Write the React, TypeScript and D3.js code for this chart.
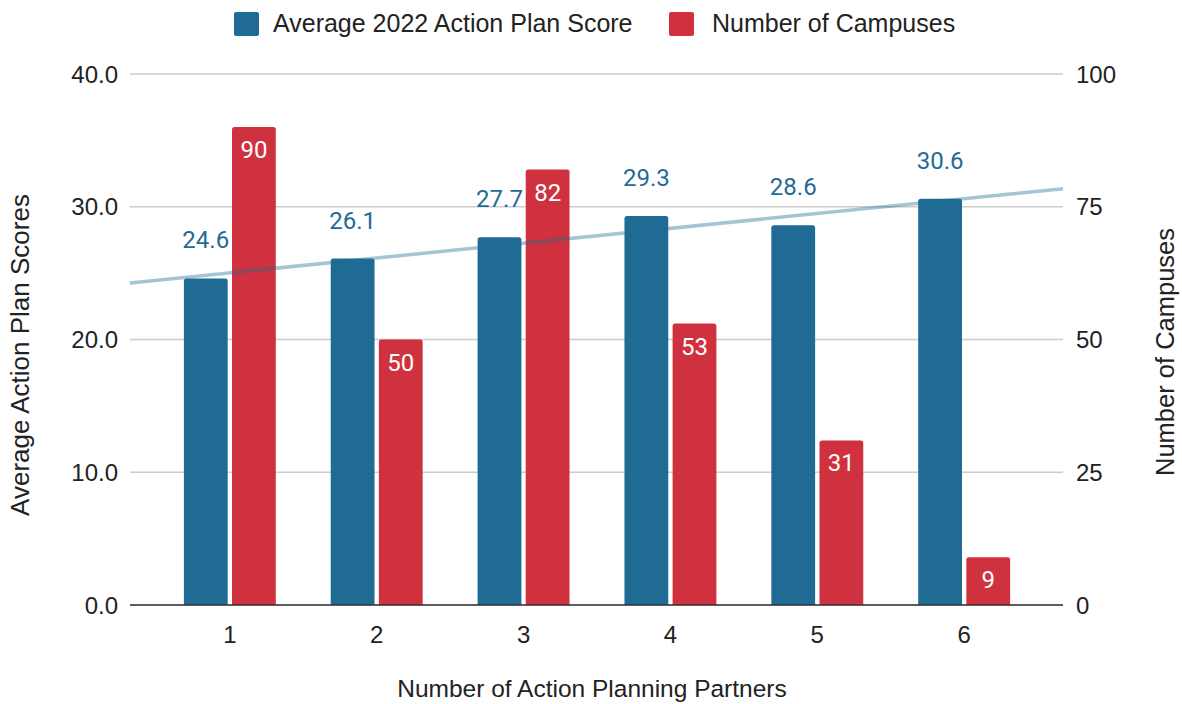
import React from 'react';
import * as d3 from 'd3';

const partners = ['1', '2', '3', '4', '5', '6'];
const avgScores = [24.6, 26.1, 27.7, 29.3, 28.6, 30.6];
const campuses = [90, 50, 82, 53, 31, 9];
const leftTicks = [0, 10, 20, 30, 40];
const rightTicks = [0, 25, 50, 75, 100];

const BLUE = '#1f6b93';
const RED = '#cf323e';
const W = 1182;
const H = 704;
const margin = { top: 74, right: 119, bottom: 99, left: 130 };

const App = () => {
  const x0 = margin.left;
  const x1 = W - margin.right;
  const y0 = H - margin.bottom;
  const y1 = margin.top;

  const xScale = d3.scaleBand<string>()
    .domain(partners)
    .range([x0 + 1, x1])
    .paddingInner(0.374)
    .paddingOuter(0.36);

  const inner = d3.scaleBand<string>()
    .domain(['score', 'campus'])
    .range([0, xScale.bandwidth()])
    .paddingInner(0.09);

  const yLeft = d3.scaleLinear().domain([0, 40]).range([y0, y1]);
  const yRight = d3.scaleLinear().domain([0, 100]).range([y0, y1]);

  // linear trendline for the score series
  const xs = partners.map((_, i) => i + 1);
  const mx = d3.mean(xs) as number;
  const my = d3.mean(avgScores) as number;
  const sxy = d3.sum(xs, (v, i) => (v - mx) * (avgScores[i] - my));
  const sxx = d3.sum(xs, v => (v - mx) * (v - mx));
  const slope = sxy / sxx;
  const intercept = my - slope * mx;
  const step = xScale.step();
  const firstCenter = (xScale('1') as number) + xScale.bandwidth() / 2;
  const valAt = (px: number) => 1 + (px - firstCenter) / step;
  const trend = (px: number) => yLeft(intercept + slope * valAt(px));

  const barPath = (x: number, y: number, w: number, h: number, r = 2.5) => {
    const rr = Math.min(r, h);
    return `M${x},${y + h}V${y + rr}Q${x},${y} ${x + rr},${y}H${x + w - rr}Q${x + w},${y} ${x + w},${y + rr}V${y + h}Z`;
  };

  const axisFont = 'Arial, "Liberation Sans", sans-serif';
  const labelFont = 'Roboto, "Noto Sans", sans-serif';

  return (
    <svg width={W} height={H} style={{ position: 'absolute', left: 0, top: 0, background: '#fff' }}>
      {/* legend */}
      <g fontFamily={axisFont} fontSize={25} fill="#222">
        <rect x={234} y={12} width={25} height={24} rx={2} fill={BLUE} />
        <text x={273} y={32}>Average 2022 Action Plan Score</text>
        <rect x={669} y={12} width={25} height={24} rx={2} fill={RED} />
        <text x={712} y={32}>Number of Campuses</text>
      </g>

      {/* gridlines */}
      {leftTicks.map(t => (
        <line key={t} x1={x0} x2={x1} y1={yLeft(t)} y2={yLeft(t)} stroke="#cccccc" strokeWidth={1.5} />
      ))}

      {/* left ticks */}
      <g fontFamily={axisFont} fontSize={24} fill="#222" textAnchor="end">
        {leftTicks.map(t => (
          <text key={t} x={x0 - 12} y={yLeft(t) + 8.5}>{t.toFixed(1)}</text>
        ))}
      </g>
      {/* right ticks */}
      <g fontFamily={axisFont} fontSize={24} fill="#222" textAnchor="start">
        {rightTicks.map(t => (
          <text key={t} x={x1 + 13} y={yRight(t) + 8.5}>{t}</text>
        ))}
      </g>

      {/* bars */}
      {partners.map((p, i) => {
        const gx = xScale(p) as number;
        const bx = gx + (inner('score') as number);
        const rx = gx + (inner('campus') as number);
        const bw = inner.bandwidth();
        const by = yLeft(avgScores[i]);
        const ry = yRight(campuses[i]);
        return (
          <g key={p}>
            <path d={barPath(bx, by, bw, y0 - by)} fill={BLUE} />
            <path d={barPath(rx, ry, bw, y0 - ry)} fill={RED} />
          </g>
        );
      })}

      {/* baseline */}
      <line x1={x0} x2={x1} y1={y0} y2={y0} stroke="#333" strokeWidth={1.5} />

      {/* trendline */}
      <line x1={x0} x2={x1} y1={trend(x0)} y2={trend(x1)} stroke={BLUE} strokeOpacity={0.4} strokeWidth={3.5} />

      {/* data labels */}
      {partners.map((p, i) => {
        const gx = xScale(p) as number;
        const bw = inner.bandwidth();
        const bc = gx + (inner('score') as number) + bw / 2;
        const rc = gx + (inner('campus') as number) + bw / 2;
        return (
          <g key={p} fontFamily={labelFont} fontSize={24} textAnchor="middle">
            <text x={bc} y={yLeft(avgScores[i]) - 30} fill={BLUE}>{avgScores[i].toFixed(1)}</text>
            <text x={rc} y={yRight(campuses[i]) + 31} fill="#fff">{campuses[i]}</text>
          </g>
        );
      })}

      {/* category labels */}
      <g fontFamily={axisFont} fontSize={24} fill="#222" textAnchor="middle">
        {partners.map(p => (
          <text key={p} x={(xScale(p) as number) + xScale.bandwidth() / 2} y={y0 + 38}>{p}</text>
        ))}
      </g>

      {/* axis titles */}
      <g fontFamily={axisFont} fill="#222" textAnchor="middle">
        <text x={592} y={697} fontSize={24.5}>Number of Action Planning Partners</text>
        <text transform={`translate(29,355) rotate(-90)`} fontSize={26}>Average Action Plan Scores</text>
        <text transform={`translate(1174,352) rotate(-90)`} fontSize={25.5}>Number of Campuses</text>
      </g>
    </svg>
  );
};

export default App;
